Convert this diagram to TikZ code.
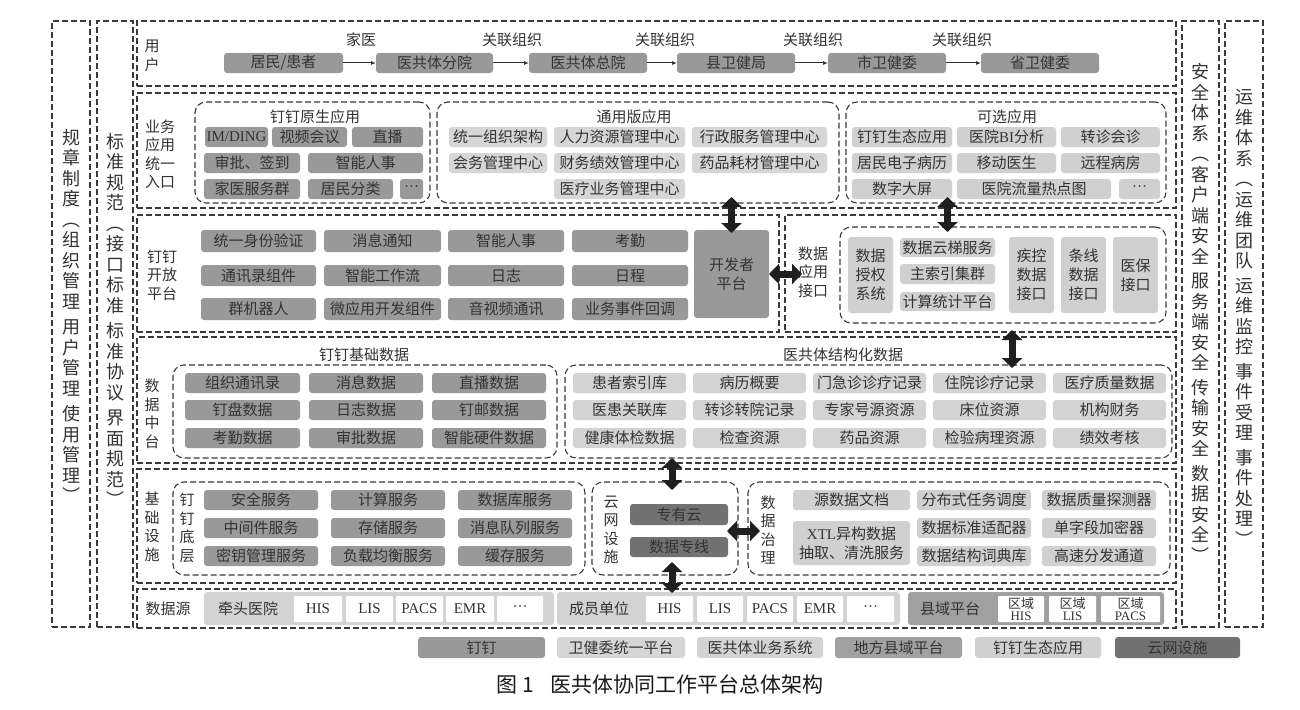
\documentclass[tikz,border=0pt]{standalone}
\usepackage{fontspec}
\setmainfont{Noto Sans CJK SC}
\newfontfamily\lat{Liberation Serif}
\usetikzlibrary{arrows.meta,calc}
\definecolor{dkc}{HTML}{999999}
\definecolor{wjc}{HTML}{D6D6D6}
\definecolor{ygc}{HTML}{D3D3D3}
\definecolor{stc}{HTML}{D0D0D0}
\definecolor{xyc}{HTML}{A0A0A0}
\definecolor{cwc}{HTML}{727272}
\definecolor{txt}{HTML}{333333}
\definecolor{dcol}{HTML}{3A3A3A}
\newcommand\fsA{\fontsize{15}{19}\selectfont}
\newcommand\fsB{\fontsize{15}{18.5}\selectfont}
\newcommand\fsC{\fontsize{18}{20.5}\selectfont}
\newcommand\fsD{\fontsize{21}{24}\selectfont}
\newcommand\fsE{\fontsize{13}{12.5}\selectfont}
\newcommand\bx[7]{\node[#1, inner sep=0pt, outer sep=0pt, minimum width={(#5-#3)*1pt}, minimum height={(#6-#4)*1pt}] (#2) at ({(#3+#5)/2},{(#4+#6)/2}) {#7};}
\begin{document}
\begin{tikzpicture}[x=1pt,y=-1pt,
  it/.style={rounded corners=3pt, text=txt, font=\fsA, align=center},
  dk/.style={it, fill=dkc}, wj/.style={it, fill=wjc}, yg/.style={it, fill=ygc},
  st/.style={it, fill=stc}, xy/.style={it, fill=xyc}, cw/.style={it, fill=cwc},
  wt/.style={it, fill=white, rounded corners=1pt},
  cont/.style={draw=dcol, line width=1.1pt, dash pattern=on 6pt off 3pt},
  grp/.style={cont, rounded corners=11pt},
  lab/.style={inner sep=0pt, text=txt, font=\fsB, align=center},
  side/.style={inner sep=0pt, text=txt, font=\fsC, align=center},
  dbl/.style={draw=black!88, line width=7pt, {Triangle[width=20pt,length=10pt]}-{Triangle[width=20pt,length=10pt]}},
  sarr/.style={draw=black!80, line width=1pt, -{Latex[length=5pt,width=4pt]}}]
\fill[white] (0,0) rectangle (1300,709);
\useasboundingbox (0,0) rectangle (1300,709);
% side columns
\bx{cont}{cA}{52}{21}{90}{627}{}
\bx{cont}{cB}{97}{21}{133}{627}{}
\bx{cont}{cC}{1182}{21}{1219}{627}{}
\bx{cont}{cD}{1225}{21}{1263}{627}{}
\node[side] (tA) at (71,316) {规\\章\\制\\度\\︵\\组\\织\\管\\理\\[5pt]用\\户\\管\\理\\[5pt]使\\用\\管\\理\\︶};
\node[side] (tB) at (115,320) {标\\准\\规\\范\\︵\\接\\口\\标\\准\\[5pt]标\\准\\协\\议\\[5pt]界\\面\\规\\范\\︶};
\node[side] (tC) at (1200,313) {安\\全\\体\\系\\︵\\客\\户\\端\\安\\全\\[4pt]服\\务\\端\\安\\全\\[4pt]传\\输\\安\\全\\[4pt]数\\据\\安\\全\\︶};
\node[side] (tD) at (1244,318) {运\\维\\体\\系\\︵\\运\\维\\团\\队\\[4pt]运\\维\\监\\控\\[4pt]事\\件\\受\\理\\[4pt]事\\件\\处\\理\\︶};
% row containers
\bx{cont}{R1}{137}{21}{1176}{86}{}
\bx{cont}{R2}{137}{93}{1176}{208}{}
\bx{cont}{R3a}{137}{215}{779}{332}{}
\bx{cont}{R3b}{785}{215}{1176}{332}{}
\bx{cont}{R4}{137}{337}{1176}{463}{}
\bx{cont}{R5}{137}{469}{1176}{583}{}
\bx{cont}{R6}{137}{589}{1176}{628}{}
% row 1
\node[lab] (L1) at (152,56) {用\\户};
\bx{dk}{u1}{224}{53}{343}{73}{居民/患者}
\bx{dk}{u2}{376}{53}{493}{73}{医共体分院}
\bx{dk}{u3}{529}{53}{647}{73}{医共体总院}
\bx{dk}{u4}{677}{53}{795}{73}{县卫健局}
\bx{dk}{u5}{828}{53}{946}{73}{市卫健委}
\bx{dk}{u6}{981}{53}{1099}{73}{省卫健委}
\draw[sarr] (u1) -- (u2);
\draw[sarr] (u2) -- (u3);
\draw[sarr] (u3) -- (u4);
\draw[sarr] (u4) -- (u5);
\draw[sarr] (u5) -- (u6);
\node[lab] (l1) at (361,40) {家医};
\node[lab] (l2) at (512,40) {关联组织};
\node[lab] (l3) at (665,40) {关联组织};
\node[lab] (l4) at (813,40) {关联组织};
\node[lab] (l5) at (962,40) {关联组织};
% row 2
\node[lab] (L2) at (160,154) {业务\\应用\\统一\\入口};
\bx{grp}{G1}{195}{102}{430}{203}{}
\bx{grp}{G2}{437}{102}{839}{203}{}
\bx{grp}{G3}{846}{102}{1166}{203}{}
\node[lab] (T1) at (315,117) {钉钉原生应用};
\node[lab] (T2) at (634,117) {通用版应用};
\node[lab] (T3) at (1007,117) {可选应用};
\bx{dk}{a1}{205}{127}{268}{147}{\lat IM/DING}
\bx{dk}{a2}{272}{127}{347}{147}{视频会议}
\bx{dk}{a3}{352}{127}{423}{147}{直播}
\bx{dk}{a4}{204}{153}{300}{173}{审批、签到}
\bx{dk}{a5}{308}{153}{423}{173}{智能人事}
\bx{dk}{a6}{204}{179}{300}{199}{家医服务群}
\bx{dk}{a7}{308}{179}{393}{199}{居民分类}
\bx{dk}{a8}{400}{179}{423}{199}{\lat ···}
\bx{wj}{b1}{449}{127}{547}{147}{统一组织架构}
\bx{wj}{b2}{554}{127}{685}{147}{人力资源管理中心}
\bx{wj}{b3}{692}{127}{827}{147}{行政服务管理中心}
\bx{wj}{b4}{449}{153}{547}{173}{会务管理中心}
\bx{wj}{b5}{554}{153}{685}{173}{财务绩效管理中心}
\bx{wj}{b6}{692}{153}{827}{173}{药品耗材管理中心}
\bx{wj}{b7}{554}{179}{685}{199}{医疗业务管理中心}
\bx{st}{c1}{852}{127}{952}{147}{钉钉生态应用}
\bx{st}{c2}{957}{127}{1056}{147}{医院{\lat BI}分析}
\bx{st}{c3}{1061}{127}{1160}{147}{转诊会诊}
\bx{st}{c4}{852}{153}{952}{173}{居民电子病历}
\bx{st}{c5}{957}{153}{1056}{173}{移动医生}
\bx{st}{c6}{1061}{153}{1160}{173}{远程病房}
\bx{st}{c7}{852}{179}{952}{199}{数字大屏}
\bx{st}{c8}{957}{179}{1111}{199}{医院流量热点图}
\bx{st}{c9}{1119}{179}{1160}{199}{\lat ···}
% row 3
\node[lab] (L3) at (162,275) {钉钉\\开放\\平台};
\bx{dk}{d1}{201}{230}{316}{252}{统一身份验证}
\bx{dk}{d2}{324}{230}{441}{252}{消息通知}
\bx{dk}{d3}{448}{230}{564}{252}{智能人事}
\bx{dk}{d4}{572}{230}{688}{252}{考勤}
\bx{dk}{d5}{201}{265}{316}{286}{通讯录组件}
\bx{dk}{d6}{324}{265}{441}{286}{智能工作流}
\bx{dk}{d7}{448}{265}{564}{286}{日志}
\bx{dk}{d8}{572}{265}{688}{286}{日程}
\bx{dk}{d9}{201}{298}{316}{320}{群机器人}
\bx{dk}{d10}{324}{298}{441}{320}{微应用开发组件}
\bx{dk}{d11}{448}{298}{564}{320}{音视频通讯}
\bx{dk}{d12}{572}{298}{688}{320}{业务事件回调}
\bx{dk}{dev}{694}{230}{769}{318}{开发者\\平台}
\node[lab] (L3b) at (813,272) {数据\\应用\\接口};
\bx{grp}{G4}{840}{227}{1166}{323}{}
\bx{st}{e1}{848}{237}{893}{313}{数据\\授权\\系统}
\bx{st}{e2}{900}{238}{995}{257}{数据云梯服务}
\bx{st}{e3}{900}{264}{995}{284}{主索引集群}
\bx{st}{e4}{900}{292}{995}{311}{计算统计平台}
\bx{st}{e5}{1009}{237}{1054}{313}{疾控\\数据\\接口}
\bx{st}{e6}{1061}{237}{1106}{313}{条线\\数据\\接口}
\bx{st}{e7}{1113}{237}{1158}{313}{医保\\接口}
% row 4
\node[lab] (L4) at (152,414) {数\\据\\中\\台};
\bx{grp}{G5}{173}{365}{557}{458}{}
\bx{grp}{G6}{565}{365}{1172}{458}{}
\node[lab] (T5) at (364,355) {钉钉基础数据};
\node[lab] (T6) at (843,355) {医共体结构化数据};
\bx{dk}{f1}{185}{373}{300}{393}{组织通讯录}
\bx{dk}{f2}{309}{373}{423}{393}{消息数据}
\bx{dk}{f3}{432}{373}{546}{393}{直播数据}
\bx{dk}{f4}{185}{400}{300}{420}{钉盘数据}
\bx{dk}{f5}{309}{400}{423}{420}{日志数据}
\bx{dk}{f6}{432}{400}{546}{420}{钉邮数据}
\bx{dk}{f7}{185}{428}{300}{448}{考勤数据}
\bx{dk}{f8}{309}{428}{423}{448}{审批数据}
\bx{dk}{f9}{432}{428}{546}{448}{智能硬件数据}
\bx{yg}{h1}{573}{373}{686}{393}{患者索引库}
\bx{yg}{h2}{693}{373}{806}{393}{病历概要}
\bx{yg}{h3}{813}{373}{926}{393}{门急诊诊疗记录}
\bx{yg}{h4}{933}{373}{1046}{393}{住院诊疗记录}
\bx{yg}{h5}{1053}{373}{1166}{393}{医疗质量数据}
\bx{yg}{h6}{573}{400}{686}{420}{医患关联库}
\bx{yg}{h7}{693}{400}{806}{420}{转诊转院记录}
\bx{yg}{h8}{813}{400}{926}{420}{专家号源资源}
\bx{yg}{h9}{933}{400}{1046}{420}{床位资源}
\bx{yg}{h10}{1053}{400}{1166}{420}{机构财务}
\bx{yg}{h11}{573}{428}{686}{448}{健康体检数据}
\bx{yg}{h12}{693}{428}{806}{448}{检查资源}
\bx{yg}{h13}{813}{428}{926}{448}{药品资源}
\bx{yg}{h14}{933}{428}{1046}{448}{检验病理资源}
\bx{yg}{h15}{1053}{428}{1166}{448}{绩效考核}
% row 5
\node[lab] (L5) at (152,527) {基\\础\\设\\施};
\bx{grp}{G7}{173}{482}{585}{575}{}
\bx{grp}{G8}{592}{482}{738}{575}{}
\bx{grp}{G9}{748}{482}{1170}{575}{}
\node[lab] (T7) at (187,528) {钉\\钉\\底\\层};
\node[lab] (T8) at (611,530) {云\\网\\设\\施};
\node[lab] (T9) at (768,530) {数\\据\\治\\理};
\bx{dk}{i1}{204}{490}{318}{510}{安全服务}
\bx{dk}{i2}{331}{490}{445}{510}{计算服务}
\bx{dk}{i3}{458}{490}{572}{510}{数据库服务}
\bx{dk}{i4}{204}{518}{318}{538}{中间件服务}
\bx{dk}{i5}{331}{518}{445}{538}{存储服务}
\bx{dk}{i6}{458}{518}{572}{538}{消息队列服务}
\bx{dk}{i7}{204}{546}{318}{566}{密钥管理服务}
\bx{dk}{i8}{331}{546}{445}{566}{负载均衡服务}
\bx{dk}{i9}{458}{546}{572}{566}{缓存服务}
\bx{cw}{j1}{630}{504}{728}{525}{专有云}
\bx{cw}{j2}{630}{537}{728}{557}{数据专线}
\bx{st}{k1}{793}{490}{910}{510}{源数据文档}
\bx{st}{k2}{917}{490}{1031}{510}{分布式任务调度}
\bx{st}{k3}{1042}{490}{1156}{510}{数据质量探测器}
\bx{st}{k4}{793}{521}{910}{565}{{\lat XTL}异构数据\\抽取、清洗服务}
\bx{st}{k5}{917}{518}{1031}{538}{数据标准适配器}
\bx{st}{k6}{1042}{518}{1156}{538}{单字段加密器}
\bx{st}{k7}{917}{546}{1031}{566}{数据结构词典库}
\bx{st}{k8}{1042}{546}{1156}{566}{高速分发通道}
% row 6
\node[lab] (L6) at (168,609) {数据源};
\bx{yg}{s1}{204}{592}{554}{625}{}
\bx{yg}{s2}{557}{592}{900}{625}{}
\bx{xy}{s3}{908}{592}{1164}{625}{}
\node[lab] (s1t) at (248,609) {牵头医院};
\node[lab] (s2t) at (599,609) {成员单位};
\node[lab] (s3t) at (950,609) {县域平台};
\bx{wt}{w1}{294}{596}{342}{622}{\lat HIS}
\bx{wt}{w2}{346}{596}{393}{622}{\lat LIS}
\bx{wt}{w3}{396}{596}{443}{622}{\lat PACS}
\bx{wt}{w4}{446}{596}{494}{622}{\lat EMR}
\bx{wt}{w5}{497}{596}{543}{622}{\lat ···}
\bx{wt}{w6}{646}{596}{693}{622}{\lat HIS}
\bx{wt}{w7}{697}{596}{743}{622}{\lat LIS}
\bx{wt}{w8}{747}{596}{793}{622}{\lat PACS}
\bx{wt}{w9}{797}{596}{843}{622}{\lat EMR}
\bx{wt}{w10}{847}{596}{894}{622}{\lat ···}
\bx{wt, font=\fsE}{w11}{998}{596}{1044}{622}{区域\\{\lat HIS}}
\bx{wt, font=\fsE}{w12}{1049}{596}{1096}{622}{区域\\{\lat LIS}}
\bx{wt, font=\fsE}{w13}{1101}{596}{1160}{622}{区域\\{\lat PACS}}
% arrows
\coordinate (xb) at (1012,0);
\coordinate (xc) at (672,0);
\coordinate (yc) at (0,531);
\draw[dbl] ($(G2.south -| dev)+(0,-6)$) -- ($(dev.north)+(0,3)$);
\draw[dbl] ($(G3.south -| e2)+(0,-6)$) -- ($(G4.north -| e2)+(0,5)$);
\draw[dbl] (dev.east) -- ($(dev.east -| R3b.west)+(17,0)$);
\draw[dbl] ($(R3b.south -| xb)+(0,-2)$) -- ($(G6.north -| xb)+(0,3)$);
\draw[dbl] ($(R4.south -| xc)+(0,-5)$) -- ($(G8.north -| xc)+(0,8)$);
\draw[dbl] ($(G8.south -| xc)+(0,-13)$) -- ($(R6.north -| xc)+(0,4)$);
\draw[dbl] ($(G8.east |- yc)+(-11,0)$) -- ($(G9.west |- yc)+(12,0)$);
% legend
\bx{dk}{g1}{418}{637}{545}{658}{钉钉}
\bx{wj}{g2}{557}{637}{685}{658}{卫健委统一平台}
\bx{yg}{g3}{697}{637}{823}{658}{医共体业务系统}
\bx{xy}{g4}{835}{637}{962}{658}{地方县域平台}
\bx{st}{g5}{975}{637}{1101}{658}{钉钉生态应用}
\bx{cw}{g6}{1115}{637}{1240}{658}{云网设施}
\node[inner sep=0pt, font=\fsD, text=black!90] (cap) at (660,684) {图 1\hspace{16pt}医共体协同工作平台总体架构};
\end{tikzpicture}
\end{document}
